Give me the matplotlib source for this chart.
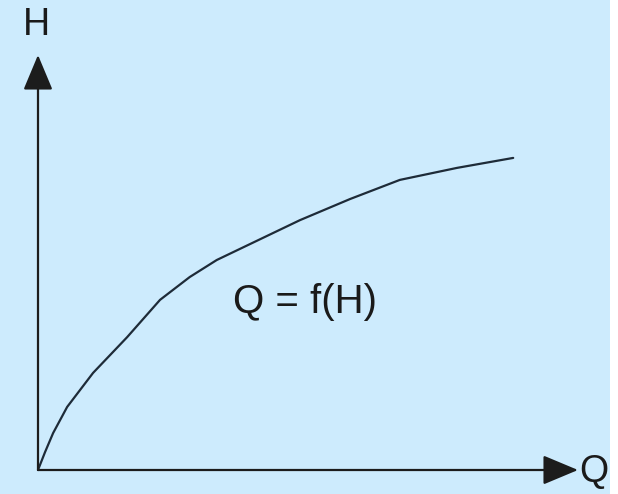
# Sketch of a rating curve Q = f(H) with arrowed axes on a light blue panel

import matplotlib
matplotlib.use('Agg')
import matplotlib.pyplot as plt
from matplotlib.patches import Rectangle

# Curve points (Q along x, H along y, axes run 0..10)
Q = [0.0, 0.13, 0.28, 0.54, 1.02, 1.65, 2.26, 2.81, 3.31, 4.85, 5.78, 6.70, 7.76, 8.80]
H = [0.0, 0.43, 0.89, 1.52, 2.34, 3.20, 4.10, 4.65, 5.06, 6.02, 6.53, 6.99, 7.28, 7.52]
axisEnd = 10
curveLabel = 'Q = f(H)'
xLabel = 'Q'
yLabel = 'H'

W, Hpx = 618, 494
fig = plt.figure(figsize=(W / 100, Hpx / 100), dpi=100, facecolor='white')

# Light blue panel, with a thin white strip on the right edge
fig.patches.append(Rectangle((0, 0), 610 / W, 1, transform=fig.transFigure,
                             facecolor='#CDEBFD', edgecolor='none', zorder=-1))

# Axes placed so that the origin and the arrow tips sit where they do in the picture
x0, y0 = 38, 470
x1, y1 = 578, 55
ax = fig.add_axes([x0 / W, 1 - y0 / Hpx, (x1 - x0) / W, (y0 - y1) / Hpx])
ax.set_zorder(2)
ax.set_xlim(0, axisEnd)
ax.set_ylim(0, axisEnd)
ax.axis('off')

arrowProps = dict(arrowstyle='-|>,head_length=0.55,head_width=0.23', mutation_scale=40,
                  color='#1c1c1c', lw=1.6, shrinkA=0, shrinkB=0)
ax.annotate('', xy=(axisEnd, 0), xytext=(0, 0), arrowprops=arrowProps, annotation_clip=False)
ax.annotate('', xy=(0, axisEnd), xytext=(0, 0), arrowprops=arrowProps, annotation_clip=False)

ax.plot(Q, H, color='#1e2b38', lw=1.6, solid_capstyle='round', solid_joinstyle='round',
        clip_on=False)

font = dict(family=['Liberation Sans', 'DejaVu Sans'], color='#1a1a1a')
fig.text(36 / W, 1 - 25 / Hpx, yLabel, ha='center', va='center', fontsize=27, **font)
fig.text(594 / W, 1 - 472 / Hpx, xLabel, ha='center', va='center', fontsize=27, **font)
fig.text(305 / W, 1 - 302 / Hpx, curveLabel, ha='center', va='center', fontsize=29, **font)

plt.savefig('out.png', dpi=100)
